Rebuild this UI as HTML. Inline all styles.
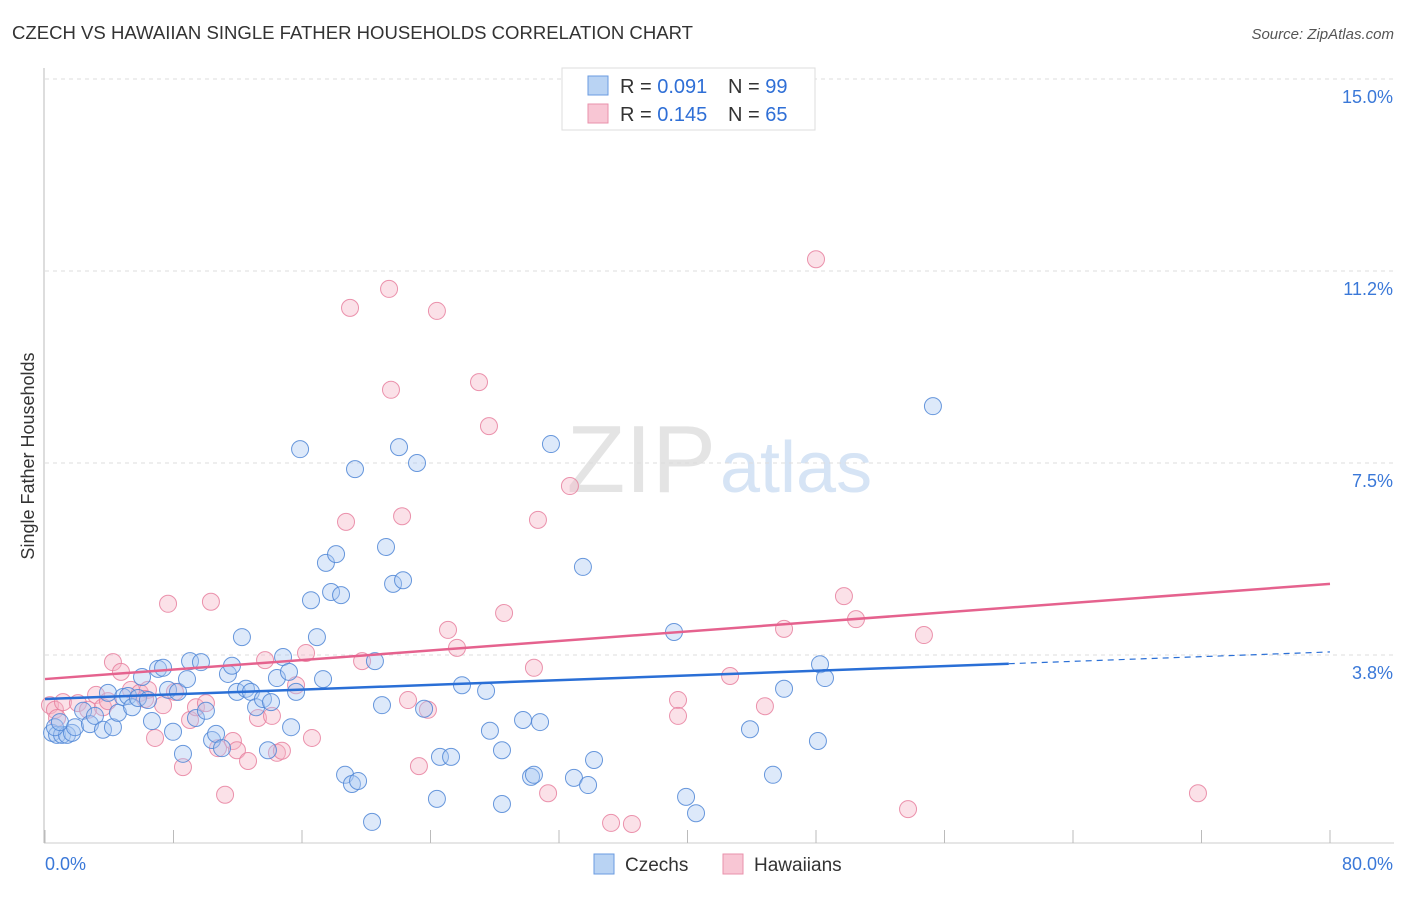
<!DOCTYPE html>
<html><head><meta charset="utf-8"><style>
body{margin:0;background:#fff;font-family:"Liberation Sans",sans-serif}
svg text{font-family:"Liberation Sans",sans-serif}
</style></head><body>
<svg id="chart" width="1406" height="892" xmlns="http://www.w3.org/2000/svg">
<text x="12" y="39" font-size="18" fill="#333" textLength="681" lengthAdjust="spacingAndGlyphs">CZECH VS HAWAIIAN SINGLE FATHER HOUSEHOLDS CORRELATION CHART</text>
<text x="1394" y="39" font-size="15" fill="#555" text-anchor="end" font-style="italic">Source: ZipAtlas.com</text>
<text x="716" y="492" font-size="96" fill="#e4e4e4" text-anchor="end" font-family="Liberation Serif">ZIP</text>
<text x="720" y="492" font-size="72" fill="#d6e4f5">atlas</text>
<text transform="translate(34,456) rotate(-90)" font-size="18" fill="#333" text-anchor="middle">Single Father Households</text>
<g id="grid"></g><g id="axes"></g><g id="pts"></g><g id="trend"></g>
<g>
<rect x="562" y="68" width="253" height="62" fill="#fff" stroke="#ddd"/>
<rect x="588" y="76" width="20" height="19" fill="#b9d3f3" stroke="#6a9be0"/>
<rect x="588" y="104" width="20" height="19" fill="#f8c6d4" stroke="#e991ab"/>
<text x="620" y="93" font-size="20" fill="#333">R = <tspan fill="#2f6fd6">0.091</tspan></text>
<text x="728" y="93" font-size="20" fill="#333">N = <tspan fill="#2f6fd6">99</tspan></text>
<text x="620" y="121" font-size="20" fill="#333">R = <tspan fill="#2f6fd6">0.145</tspan></text>
<text x="728" y="121" font-size="20" fill="#333">N = <tspan fill="#2f6fd6">65</tspan></text>
</g>
<g>
<rect x="594" y="854" width="20" height="20" fill="#b9d3f3" stroke="#6a9be0"/>
<text x="625" y="871" font-size="19" fill="#333">Czechs</text>
<rect x="723" y="854" width="20" height="20" fill="#f8c6d4" stroke="#e991ab"/>
<text x="754" y="871" font-size="19" fill="#333">Hawaiians</text>
</g>
</svg>
<script>
const yTicks=[15.0,11.25,7.5,3.75];
const yTickLabels=["15.0%","11.2%","7.5%","3.8%"];
const xTickLabels=["0.0%","80.0%"];
const czechPx=[[52,733],[57,735],[62,735],[67,735],[72,733],[55,727],[60,722],[75,727],[83,711],[90,724],[95,716],[103,730],[108,693],[113,727],[118,713],[123,697],[128,696],[132,707],[138,698],[142,677],[148,700],[152,721],[158,669],[163,668],[168,690],[173,732],[178,692],[183,754],[187,679],[190,661],[196,718],[201,662],[206,711],[212,740],[216,734],[222,748],[228,674],[232,666],[237,692],[242,637],[246,689],[251,692],[256,707],[263,699],[268,750],[271,702],[277,678],[283,657],[289,672],[291,727],[296,692],[300,449],[311,600],[317,637],[323,679],[326,563],[331,592],[336,554],[341,595],[345,775],[352,784],[355,469],[358,781],[372,822],[375,661],[382,705],[386,547],[393,584],[399,447],[403,580],[417,463],[424,709],[437,799],[440,757],[451,757],[462,685],[486,691],[490,731],[502,804],[502,750],[523,720],[531,777],[534,775],[540,722],[551,444],[574,778],[583,567],[588,785],[594,760],[674,632],[686,797],[696,813],[750,729],[773,775],[784,689],[818,741],[820,664],[825,678],[933,406]];
const hawPx=[[50,705],[55,710],[57,718],[63,702],[78,703],[88,710],[96,695],[103,707],[108,701],[113,662],[121,672],[131,690],[140,693],[148,690],[145,699],[155,738],[163,705],[168,604],[175,692],[183,767],[190,720],[196,707],[206,703],[211,602],[218,748],[225,795],[233,741],[237,750],[248,761],[258,718],[265,660],[272,716],[277,753],[282,751],[296,685],[306,653],[312,738],[346,522],[350,308],[362,661],[389,289],[391,390],[402,516],[408,700],[419,766],[428,710],[437,311],[448,630],[457,648],[479,382],[489,426],[504,613],[534,668],[538,520],[548,793],[570,486],[611,823],[632,824],[678,700],[678,716],[730,676],[765,706],[784,629],[816,259],[844,596],[856,619],[908,809],[924,635],[1198,793]];
const czechX=czechPx.map(p=>+((p[0]-45)/16.0625).toFixed(2));
const czechY=czechPx.map(p=>+((847-p[1])/51.2).toFixed(2));
const hawX=hawPx.map(p=>+((p[0]-45)/16.0625).toFixed(2));
const hawY=hawPx.map(p=>+((847-p[1])/51.2).toFixed(2));
const czechTrend=[2.89,3.81];
const hawTrend=[3.28,5.14];
const X=v=>45+v*16.0625, Y=v=>847-v*51.2;
const NS="http://www.w3.org/2000/svg";
function mk(tag,attrs,parent){const e=document.createElementNS(NS,tag);for(const k in attrs)e.setAttribute(k,attrs[k]);parent.appendChild(e);return e;}
const grid=document.getElementById('grid'),axes=document.getElementById('axes'),pts=document.getElementById('pts'),tr=document.getElementById('trend');
yTicks.forEach((t,i)=>{
 const l=mk('line',{x1:45,x2:1394,y1:Y(t),y2:Y(t),stroke:'#ddd','stroke-dasharray':'4,4'},grid);
 
 
 const tx=mk('text',{x:1393,y:Y(t)+24,'font-size':18,fill:'#3a78d8','text-anchor':'end'},axes);
 tx.textContent=yTickLabels[i];
 
 
});
const ax=mk('line',{x1:44,x2:44,y1:68,y2:843,stroke:'#bbb'},axes);


const bx=mk('line',{x1:44,x2:1394,y1:843,y2:843,stroke:'#ccc'},axes);


for(let i=0;i<=10;i++){const t=mk('line',{x1:X(i*8),x2:X(i*8),y1:830,y2:843,stroke:'#bbb'},axes);
 
 }
[[0,'start',45],[80,'end',1393]].forEach((d,i)=>{const t=mk('text',{x:d[2],y:870,'font-size':18,fill:'#3a78d8','text-anchor':d[1]},axes);t.textContent=xTickLabels[i];
 
 });
function dots(xs,ys,fill,stroke,name){xs.forEach((x,i)=>{const c=mk('circle',{cx:X(x),cy:Y(ys[i]),r:8.5,fill:fill,'fill-opacity':0.4,stroke:stroke,'stroke-opacity':0.85,'stroke-width':1},pts);
 
 });}
dots(hawX,hawY,'#f4b3c6','#e8809f','hawaiian-point');
dots(czechX,czechY,'#a9c9f2','#4f86d6','czech-point');
const tb=mk('line',{x1:X(0),y1:Y(czechTrend[0]),x2:X(60),y2:Y(czechTrend[0]+(czechTrend[1]-czechTrend[0])*0.75),stroke:'#2a6fd6','stroke-width':2.5},tr);


const tbd=mk('line',{x1:X(60),y1:Y(czechTrend[0]+(czechTrend[1]-czechTrend[0])*0.75),x2:X(80),y2:Y(czechTrend[1]),stroke:'#2a6fd6','stroke-width':1.2,'stroke-dasharray':'6,5'},tr);


const tp=mk('line',{x1:X(0),y1:Y(hawTrend[0]),x2:X(80),y2:Y(hawTrend[1]),stroke:'#e5628e','stroke-width':2.5},tr);


</script>
</body></html>
